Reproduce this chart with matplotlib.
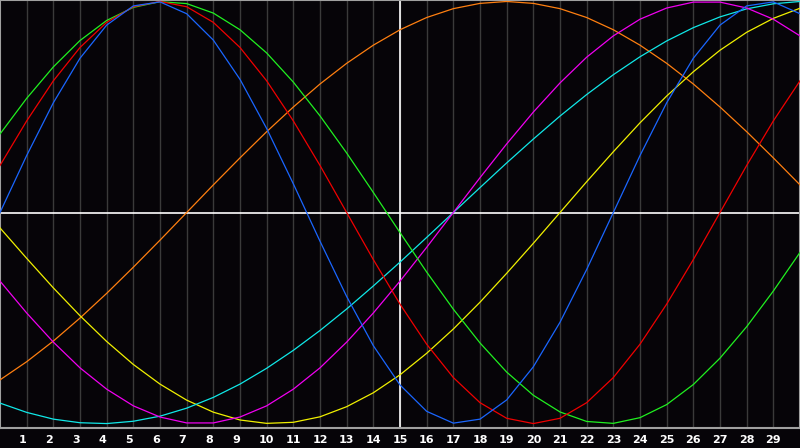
import matplotlib
matplotlib.use('Agg')
import matplotlib.pyplot as plt
import matplotlib.transforms as mtransforms

days = list(range(31))
tick_days = list(range(1, 30))
tick_labels = [str(d) for d in tick_days]

blue = [0.0, 0.270, 0.520, 0.731, 0.888, 0.979, 0.998, 0.942, 0.817, 0.631,
        0.398, 0.136, -0.136, -0.398, -0.631, -0.817, -0.942, -0.998, -0.979, -0.888,
        -0.731, -0.520, -0.270, 0.0, 0.270, 0.520, 0.731, 0.888, 0.979, 0.998, 0.942]
red = [0.223, 0.434, 0.624, 0.782, 0.901, 0.975, 1.0, 0.975, 0.901, 0.782,
       0.624, 0.434, 0.223, 0.0, -0.223, -0.434, -0.624, -0.782, -0.901, -0.975,
       -1.0, -0.975, -0.901, -0.782, -0.624, -0.434, -0.223, 0.0, 0.223, 0.434, 0.624]
green = [0.372, 0.541, 0.690, 0.815, 0.910, 0.972, 0.999, 0.990, 0.945, 0.866,
         0.756, 0.618, 0.458, 0.282, 0.095, -0.095, -0.282, -0.458, -0.618, -0.756,
         -0.866, -0.945, -0.990, -0.999, -0.972, -0.910, -0.815, -0.690, -0.541, -0.372, -0.189]
orange = [-0.793, -0.707, -0.609, -0.5, -0.383, -0.259, -0.131, 0.0, 0.131, 0.259,
          0.383, 0.5, 0.609, 0.707, 0.793, 0.866, 0.924, 0.966, 0.991, 1.0,
          0.991, 0.966, 0.924, 0.866, 0.793, 0.707, 0.609, 0.5, 0.383, 0.259, 0.131]
magenta = [-0.325, -0.476, -0.614, -0.736, -0.837, -0.916, -0.969, -0.997, -0.997, -0.969,
           -0.916, -0.837, -0.736, -0.614, -0.476, -0.325, -0.165, 0.0, 0.165, 0.325,
           0.476, 0.614, 0.736, 0.837, 0.916, 0.969, 0.997, 0.997, 0.969, 0.916, 0.837]
cyan = [-0.903, -0.947, -0.979, -0.996, -1.0, -0.989, -0.965, -0.927, -0.876, -0.813,
        -0.738, -0.653, -0.559, -0.457, -0.348, -0.235, -0.118, 0.0, 0.118, 0.235,
        0.348, 0.457, 0.559, 0.653, 0.738, 0.813, 0.876, 0.927, 0.965, 0.989, 1.0]
yellow = [-0.073, -0.217, -0.357, -0.489, -0.611, -0.720, -0.813, -0.889, -0.946, -0.983,
          -0.999, -0.994, -0.968, -0.920, -0.854, -0.769, -0.667, -0.552, -0.425, -0.288,
          -0.146, 0.0, 0.146, 0.288, 0.425, 0.552, 0.667, 0.769, 0.854, 0.920, 0.968]

series = [
    (orange, '#ff7f10'),
    (yellow, '#f0f000'),
    (cyan, '#10e8e8'),
    (magenta, '#f000f0'),
    (green, '#20f020'),
    (red, '#f00000'),
    (blue, '#1a66ff'),
]

bg = '#060408'
fig = plt.figure(figsize=(8, 4.48), dpi=100, facecolor=bg)
ax = fig.add_axes([0, 20 / 448, 1, 428 / 448])
ax.set_facecolor(bg)

# day grid
for d in tick_days:
    ax.axvline(d, color='#3a3a3a', lw=1.0, zorder=1)
ax.axvline(15, color='white', lw=1.2, zorder=2)
ax.axhline(0, color='white', lw=1.2, zorder=2)

for values, color in series:
    ax.plot(days, values, color=color, lw=0.9, zorder=3)

ax.set_xlim(0, 30)
ax.set_ylim(-1.021, 1.007)
ax.set_xticks([])
ax.set_yticks([])
for s in ax.spines.values():
    s.set_color('#a0a0a0')
    s.set_linewidth(1.5)

# labels: single digits sit a little left of their grid line
base = ax.get_xaxis_transform()
for d, lab in zip(tick_days, tick_labels):
    shift = -3 / 72 if len(lab) == 1 else 0
    tr = base + mtransforms.ScaledTranslation(shift, 0.02, fig.dpi_scale_trans)
    ax.text(d, -0.02, lab, transform=tr, ha='center', va='top',
            color='white', fontsize=8, fontweight='bold', family='DejaVu Sans')

fig.savefig('out.png', dpi=100, facecolor=bg)
